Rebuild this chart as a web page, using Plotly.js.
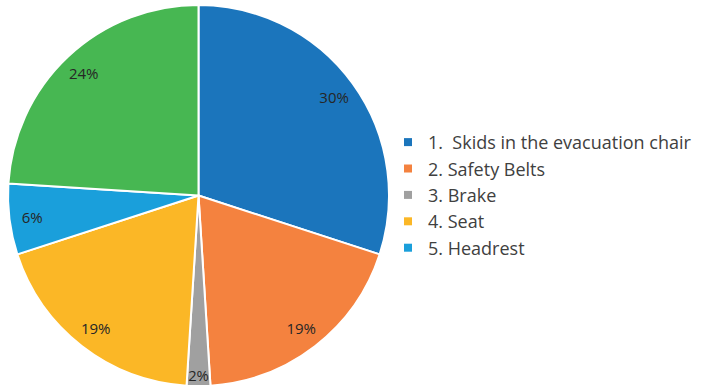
<!DOCTYPE html>
<html>
<head>
<meta charset="utf-8">
<script src="https://cdn.plot.ly/plotly-3.0.1.min.js"></script>
<style>html,body{margin:0;padding:0;background:#fff;}#chart{width:716px;height:386px;}</style>
</head>
<body>
<div id="chart"></div>
<script>
const sliceLabels = ["1.  Skids in the evacuation chair", "2. Safety Belts", "3. Brake", "4. Seat", "5. Headrest", "6."];
const sliceValues = [30, 19, 2, 19, 6, 24];
const sliceColors = ["#1B75BC", "#F4823F", "#A0A0A0", "#FBB726", "#1A9FDB", "#47B752"];
const legendCount = 5;

const pieDomain = {x: [8/716, 389/716], y: [0, 1 - 5/386]};

// coloured slices
const pie = {
  type: "pie",
  labels: sliceLabels,
  values: sliceValues,
  sort: false,
  direction: "clockwise",
  rotation: 0,
  marker: {colors: sliceColors, line: {color: "#ffffff", width: 2}},
  textinfo: "none",
  showlegend: false,
  hoverinfo: "label+percent",
  domain: pieDomain
};

// transparent ring carrying the percentage labels near the rim
const labelRing = {
  type: "pie",
  labels: sliceLabels,
  values: sliceValues,
  sort: false,
  direction: "clockwise",
  rotation: 0,
  hole: 0.76,
  marker: {colors: sliceLabels.map(() => "rgba(0,0,0,0)"), line: {width: 0}},
  texttemplate: "%{percent:.0%}",
  textposition: "inside",
  insidetextorientation: "horizontal",
  textfont: {family: "'Open Sans', sans-serif", size: 15, color: "#262626"},
  showlegend: false,
  hoverinfo: "skip",
  domain: pieDomain
};

const legendTraces = sliceLabels.slice(0, legendCount).map((name, i) => ({
  type: "scatter",
  mode: "markers",
  x: [null], y: [null],
  name: name,
  marker: {symbol: "square", size: 8, color: sliceColors[i]},
  showlegend: true,
  hoverinfo: "skip"
}));

const layout = {
  width: 716, height: 386,
  margin: {l: 0, r: 0, t: 0, b: 0},
  paper_bgcolor: "#ffffff",
  plot_bgcolor: "#ffffff",
  xaxis: {visible: false},
  yaxis: {visible: false},
  showlegend: true,
  legend: {
    x: 388/716, y: 0.679, xanchor: "left", yanchor: "top",
    font: {family: "'Open Sans', sans-serif", size: 18, color: "#404040"},
    tracegroupgap: 0,
    itemwidth: 30,
    bgcolor: "rgba(0,0,0,0)"
  }
};

Plotly.newPlot("chart", [pie, labelRing, ...legendTraces], layout, {displayModeBar: false, staticPlot: true});
</script>
</body>
</html>
